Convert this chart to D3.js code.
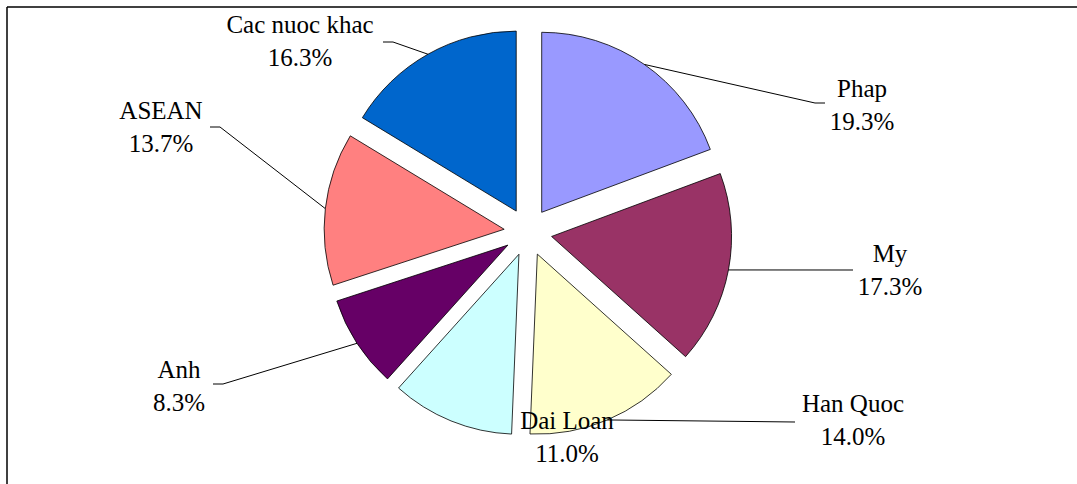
<!DOCTYPE html>
<html>
<head>
<meta charset="utf-8">
<script src="https://cdn.jsdelivr.net/npm/d3@7"></script>
<style>
    body { margin: 0; background: #fff; }
    .lbl { font-family: "Times New Roman", "Liberation Serif", "DejaVu Serif", serif; font-size: 25px; }
</style>
</head>
<body>
<svg id="chart-svg" width="1077" height="484"></svg>
<script>
// Data, clockwise from 12 o'clock.
let countries = ['Phap', 'My', 'Han Quoc', 'Dai Loan', 'Anh', 'ASEAN', 'Cac nuoc khac'];
let shares = [19.3, 17.3, 14.0, 11.0, 8.3, 13.7, 16.3];
let sliceColors = ['#9999ff', '#993366', '#ffffcc', '#ccffff', '#660066', '#ff8080', '#0066cc'];

// Label layout: centre x, first baseline, and the point where the leader meets the label.
let labelLayout = [
    {x: 862, y: 97, end: [825, 103], elbow: -10},
    {x: 890, y: 262, end: [853, 270], elbow: 0},
    {x: 853, y: 412, end: [795, 422], elbow: 0},
    {x: 567, y: 429, end: null},
    {x: 179, y: 378, end: [213, 384], elbow: 10},
    {x: 161, y: 119, end: [210, 127], elbow: 10},
    {x: 300, y: 33, end: [383, 42], elbow: 10}
];

let cx = 528, cy = 232, radius = 180, explode = 24, lineGap = 33;

let svg = d3.select('#chart-svg');

// Chart frame (top and left edges only are visible).
svg.append('line').attr('x1', 7).attr('y1', 7).attr('x2', 1077).attr('y2', 7)
    .attr('stroke', '#000').attr('stroke-width', 1.5);
svg.append('line').attr('x1', 7).attr('y1', 7).attr('x2', 7).attr('y2', 484)
    .attr('stroke', '#000').attr('stroke-width', 1.5);

let data = countries.map((c, i) => ({name: c, value: shares[i], color: sliceColors[i], label: labelLayout[i]}));

let pie = d3.pie()
    .sort(null)
    .value(d => d.value);

let arcs = pie(data);

let arc = d3.arc()
    .innerRadius(0)
    .outerRadius(radius);

// Offset of each exploded slice along its bisector.
function offset(d, dist) {
    let mid = (d.startAngle + d.endAngle) / 2;
    return [dist * Math.sin(mid), -dist * Math.cos(mid)];
}

let gPie = svg.append('g')
    .attr('transform', 'translate(' + cx + ',' + cy + ')');

gPie.selectAll('path')
    .data(arcs)
    .join('path')
    .attr('transform', d => {
        let o = offset(d, explode);
        return 'translate(' + o[0] + ',' + o[1] + ')';
    })
    .attr('d', arc)
    .attr('fill', d => d.data.color)
    .attr('stroke', '#000')
    .attr('stroke-width', 0.8);

// Leader lines from the middle of each slice's outer arc.
let gLines = svg.append('g');
gLines.selectAll('polyline')
    .data(arcs.filter(d => d.data.label.end))
    .join('polyline')
    .attr('points', d => {
        let o = offset(d, explode);
        let m = offset(d, radius);
        let start = [cx + o[0] + m[0], cy + o[1] + m[1]];
        let end = d.data.label.end;
        let elbow = [end[0] + d.data.label.elbow, end[1]];
        return [start, elbow, end].map(p => p.join(',')).join(' ');
    })
    .attr('fill', 'none')
    .attr('stroke', '#000')
    .attr('stroke-width', 1);

// Labels: name and percentage on two lines.
let fmt = d3.format('.1f');
let gLabels = svg.append('g');
let labels = gLabels.selectAll('text')
    .data(arcs)
    .join('text')
    .attr('class', 'lbl')
    .attr('text-anchor', 'middle')
    .style('fill', '#000');

labels.append('tspan')
    .attr('x', d => d.data.label.x)
    .attr('y', d => d.data.label.y)
    .text(d => d.data.name);

labels.append('tspan')
    .attr('x', d => d.data.label.x)
    .attr('y', d => d.data.label.y + lineGap)
    .text(d => fmt(d.data.value) + '%');
</script>
</body>
</html>
